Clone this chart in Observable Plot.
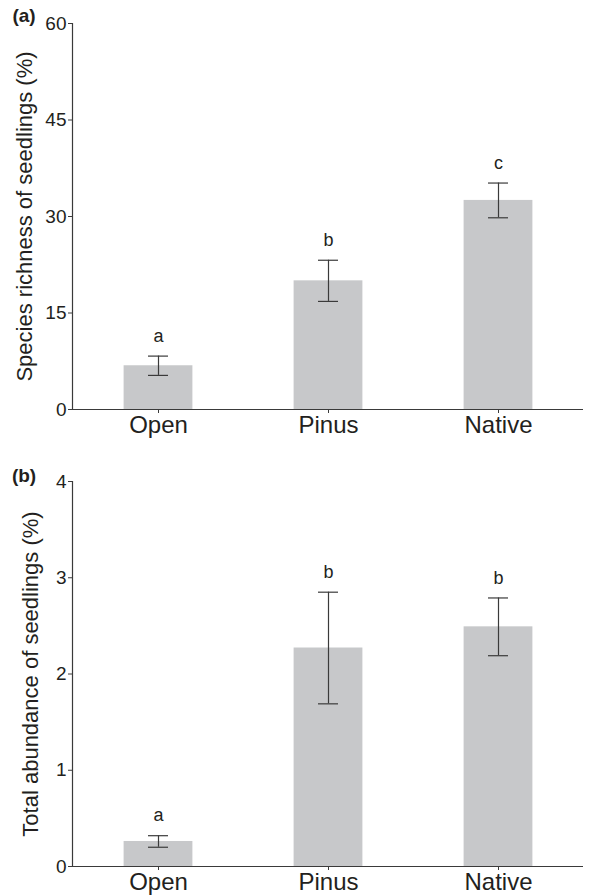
<!DOCTYPE html>
<html><head><meta charset="utf-8">
<script src="https://cdn.jsdelivr.net/npm/d3@7"></script>
<script src="https://cdn.jsdelivr.net/npm/@observablehq/plot@0.6"></script>
<style>
body{margin:0;background:#fff;}
#chart svg{display:block;overflow:visible;}
</style></head><body><div id="chart"></div>
<script>
const habitats = ["Open", "Pinus", "Native"];

const richnessMean = [6.8, 20.0, 32.5];
const richnessErr = [1.5, 3.2, 2.7];
const richnessLetters = ["a", "b", "c"];
const richnessTicks = [0, 15, 30, 45, 60];
const richnessTitle = "Species richness of seedlings (%)";

const abundanceMean = [0.26, 2.27, 2.49];
const abundanceErr = [0.06, 0.58, 0.30];
const abundanceLetters = ["a", "b", "b"];
const abundanceTicks = [0, 1, 2, 3, 4];
const abundanceTitle = "Total abundance of seedlings (%)";

const FONT = "'Liberation Sans', Arial, Helvetica, sans-serif";
const INK = "#231f20";
const LINE = "#3a3a3a";
const BAR = "#c7c8ca";

function panel({means, errs, letters, ticks, title, tag, height, marginTop, marginBottom, titleDx, tagDy}) {
  const rows = habitats.map((h, i) => ({habitat: h, mean: means[i], err: errs[i], letter: letters[i]}));
  const ymax = ticks[ticks.length - 1];
  return Plot.plot({
    width: 589,
    height,
    marginTop,
    marginBottom,
    marginLeft: 72,
    marginRight: 6,
    style: {fontFamily: FONT, color: INK, background: "white", overflow: "visible"},
    x: {domain: habitats, padding: 0, axis: null},
    y: {domain: [0, ymax], axis: null},
    marks: [
      Plot.barY(rows, {x: "habitat", y: "mean", fill: BAR, insetLeft: 50.6, insetRight: 50.6}),
      Plot.ruleX(rows, {x: "habitat", y1: d => d.mean - d.err, y2: d => d.mean + d.err, stroke: LINE, strokeWidth: 1.2}),
      Plot.tickY(rows, {x: "habitat", y: d => d.mean + d.err, stroke: LINE, strokeWidth: 1.2, insetLeft: 75, insetRight: 75}),
      Plot.tickY(rows, {x: "habitat", y: d => d.mean - d.err, stroke: LINE, strokeWidth: 1.2, insetLeft: 75, insetRight: 75}),
      Plot.text(rows, {x: "habitat", y: d => d.mean + d.err, text: "letter", dy: -20, fontSize: 18, fill: INK, lineAnchor: "middle"}),
      Plot.axisY({ticks, tickSize: 4, tickPadding: 2, fontSize: 19, label: null, stroke: LINE, fill: INK, tickFormat: d => String(d)}),
      Plot.axisX({tickSize: 4, tickPadding: 2, fontSize: 24, label: null, stroke: LINE, fill: INK}),
      Plot.frame({anchor: "left", stroke: LINE, strokeWidth: 1.2}),
      Plot.ruleY([0], {stroke: LINE, strokeWidth: 1.2}),
      Plot.text([title], {frameAnchor: "left", rotate: -90, dx: titleDx, fontSize: 22, fill: INK, textAnchor: "middle", lineAnchor: "middle"}),
      Plot.text([tag], {frameAnchor: "top-left", dx: -48.5, dy: tagDy, fontSize: 19, fontWeight: "bold", fill: INK, textAnchor: "middle", lineAnchor: "middle"})
    ]
  });
}

const root = document.getElementById("chart");
root.appendChild(panel({
  means: richnessMean, errs: richnessErr, letters: richnessLetters, ticks: richnessTicks,
  title: richnessTitle, tag: "(a)", height: 450, marginTop: 23, marginBottom: 41, titleDx: -48, tagDy: -8
}));
root.appendChild(panel({
  means: abundanceMean, errs: abundanceErr, letters: abundanceLetters, ticks: abundanceTicks,
  title: abundanceTitle, tag: "(b)", height: 445, marginTop: 31, marginBottom: 29, titleDx: -42, tagDy: -6
}));
</script></body></html>
